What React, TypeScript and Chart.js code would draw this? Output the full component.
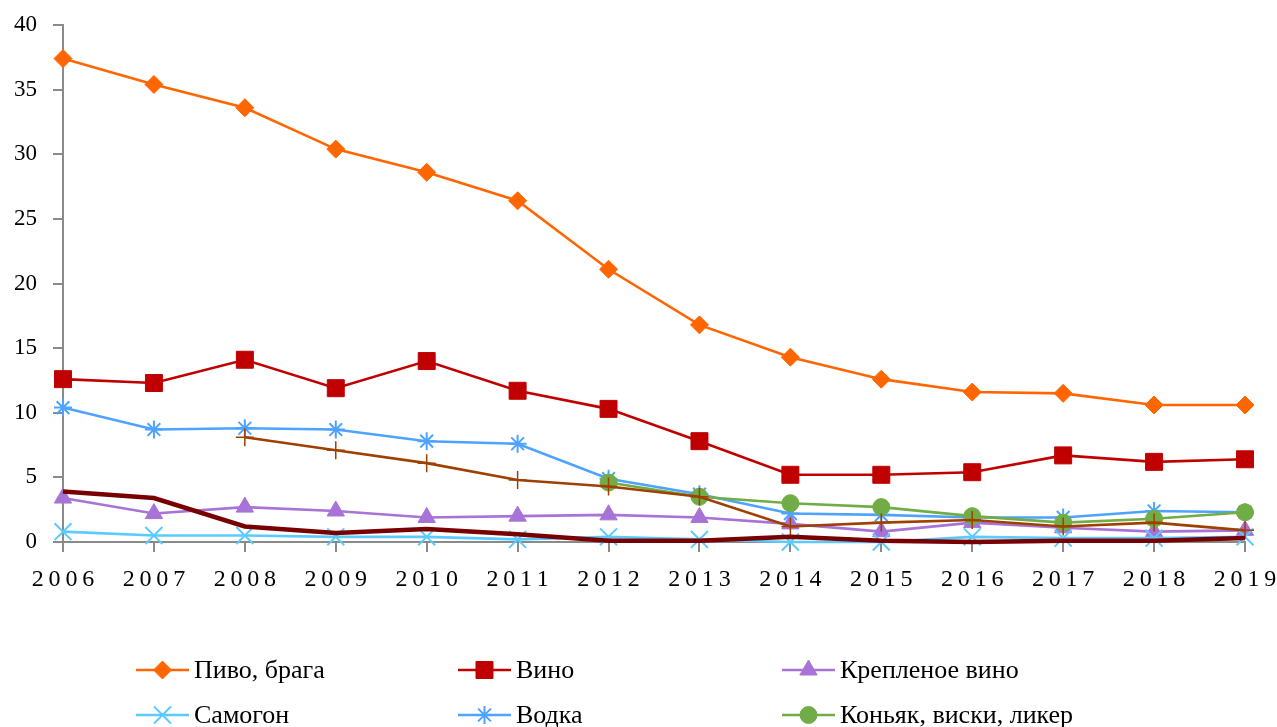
import React, { useEffect, useRef } from "react";
import { Chart, registerables } from "chart.js";
import { drawPoint } from "chart.js/helpers";

Chart.register(...registerables);

const years = ["2006", "2007", "2008", "2009", "2010", "2011", "2012", "2013", "2014", "2015", "2016", "2017", "2018", "2019"];

const pivo = [37.4, 35.4, 33.6, 30.4, 28.6, 26.4, 21.1, 16.8, 14.3, 12.6, 11.6, 11.5, 10.6, 10.6];
const vino = [12.6, 12.3, 14.1, 11.9, 14.0, 11.7, 10.3, 7.8, 5.2, 5.2, 5.4, 6.7, 6.2, 6.4];
const krep = [3.4, 2.2, 2.7, 2.4, 1.9, 2.0, 2.1, 1.9, 1.4, 0.8, 1.5, 1.1, 0.8, 0.9];
const samogon = [0.8, 0.5, 0.5, 0.4, 0.4, 0.2, 0.4, 0.2, 0.0, 0.0, 0.4, 0.3, 0.3, 0.4];
const vodka = [10.4, 8.7, 8.8, 8.7, 7.8, 7.6, 4.9, 3.7, 2.2, 2.1, 1.9, 1.9, 2.4, 2.3];
const konyak = [null, null, null, null, null, null, 4.6, 3.5, 3.0, 2.7, 2.0, 1.5, 1.8, 2.3];
const slaboalk = [null, null, 8.1, 7.1, 6.1, 4.8, 4.3, 3.5, 1.2, 1.5, 1.7, 1.2, 1.5, 0.9];
const prochie = [3.9, 3.4, 1.2, 0.7, 1.0, 0.6, 0.1, 0.1, 0.4, 0.1, 0.0, 0.1, 0.1, 0.3];

const seriesNames = [
  "Пиво, брага",
  "Вино",
  "Крепленое вино",
  "Самогон",
  "Водка",
  "Коньяк, виски, ликер",
  "Слабоалкогольные напитки",
  "Прочие",
];

const yTicks = [0, 5, 10, 15, 20, 25, 30, 35, 40];

const FONT = '"Liberation Serif", "DejaVu Serif", serif';
const AXIS_GRAY = "#8a8a8a";

const legendPlugin = {
  id: "colLegend",
  afterDraw(chart: any) {
    const ctx = chart.ctx;
    const x0s = [136, 458, 782];
    const yStart = 670;
    const rowH = 45;
    chart.data.datasets.forEach((ds: any, i: number) => {
      const col = i % 3;
      const row = Math.floor(i / 3);
      const x0 = x0s[col];
      const y = yStart + row * rowH;
      ctx.save();
      ctx.strokeStyle = ds.borderColor;
      ctx.lineWidth = Math.min(ds.borderWidth, 3);
      ctx.beginPath();
      ctx.moveTo(x0, y);
      ctx.lineTo(x0 + 53, y);
      ctx.stroke();
      if (ds.pointRadius > 0) {
        ctx.fillStyle = ds.pointBackgroundColor;
        ctx.strokeStyle = ds.pointBorderColor;
        ctx.lineWidth = ds.pointBorderWidth;
        drawPoint(
          ctx,
          { pointStyle: ds.pointStyle, radius: ds.pointRadius, rotation: 0, borderWidth: ds.pointBorderWidth },
          x0 + 26.5,
          y
        );
      }
      ctx.fillStyle = "#000";
      ctx.font = "26px " + FONT;
      ctx.textBaseline = "middle";
      ctx.textAlign = "left";
      ctx.fillText(ds.label, x0 + 58, y + 1);
      ctx.restore();
    });
  },
};

function mk(i: number, data: (number | null)[], color: string, style: any, radius: number, bw: number, lw: number, fill = true) {
  return {
    label: seriesNames[i],
    data,
    borderColor: color,
    backgroundColor: color,
    borderWidth: lw,
    pointStyle: style,
    pointRadius: radius,
    pointHoverRadius: radius,
    pointBackgroundColor: fill ? color : "rgba(0,0,0,0)",
    pointBorderColor: color,
    pointBorderWidth: bw,
    tension: 0,
    spanGaps: false,
    clip: false,
    order: 20 - i,
  };
}

export default function App() {
  const ref = useRef<HTMLCanvasElement | null>(null);

  useEffect(() => {
    if (!ref.current) return;
    const chart = new Chart(ref.current, {
      type: "line",
      data: {
        labels: years,
        datasets: [
          mk(0, pivo, "#FF6600", "rectRot", 9, 1, 2.6),
          mk(1, vino, "#C00000", "rect", 12, 1, 2.6),
          mk(2, krep, "#A873D6", "triangle", 10, 1, 2.6),
          mk(3, samogon, "#5BCBFF", "crossRot", 12, 2, 2.6, false),
          mk(4, vodka, "#4DA3FF", "star", 9, 2, 2.6, false),
          mk(5, konyak, "#70AD47", "circle", 8.5, 1, 2.6),
          mk(6, slaboalk, "#A04000", "cross", 9, 1.5, 2.6, false),
          mk(7, prochie, "#780000", "circle", 0, 0, 4.5),
        ] as any,
      },
      options: {
        animation: false,
        responsive: true,
        maintainAspectRatio: false,
        layout: { padding: { left: 0, right: 32, top: 25, bottom: 125 } },
        plugins: {
          legend: { display: false },
          tooltip: { enabled: false },
        },
        scales: {
          x: {
            type: "category",
            offset: false,
            afterFit: (s: any) => {
              s.height = 60;
              s.paddingLeft = 0;
              s.paddingRight = 0;
            },
            grid: {
              display: true,
              drawOnChartArea: false,
              drawTicks: true,
              tickLength: 10,
              color: AXIS_GRAY,
              lineWidth: 2,
              offset: false,
            },
            border: { display: true, color: AXIS_GRAY, width: 2 },
            ticks: {
              color: "#000",
              font: { family: FONT, size: 24 },
              padding: 13,
              maxRotation: 0,
              autoSkip: false,
              callback: (_v: any, idx: number) => years[idx].split("").join("\u2009"),
            },
          },
          y: {
            min: 0,
            max: 40,
            afterFit: (s: any) => {
              s.width = 63;
              s.paddingTop = 0;
              s.paddingBottom = 0;
            },
            afterBuildTicks: (s: any) => {
              s.ticks = yTicks.map((v) => ({ value: v }));
            },
            grid: {
              display: true,
              drawOnChartArea: false,
              drawTicks: true,
              tickLength: 10,
              color: AXIS_GRAY,
              lineWidth: 2,
            },
            border: { display: true, color: AXIS_GRAY, width: 2 },
            ticks: {
              color: "#000",
              font: { family: FONT, size: 23 },
              padding: 16,
            },
          },
        },
      },
      plugins: [legendPlugin],
    });
    return () => chart.destroy();
  }, []);

  return (
    <div style={{ position: "absolute", left: 0, top: 0, width: 1277, height: 727, background: "#fff" }}>
      <canvas ref={ref} />
    </div>
  );
}
